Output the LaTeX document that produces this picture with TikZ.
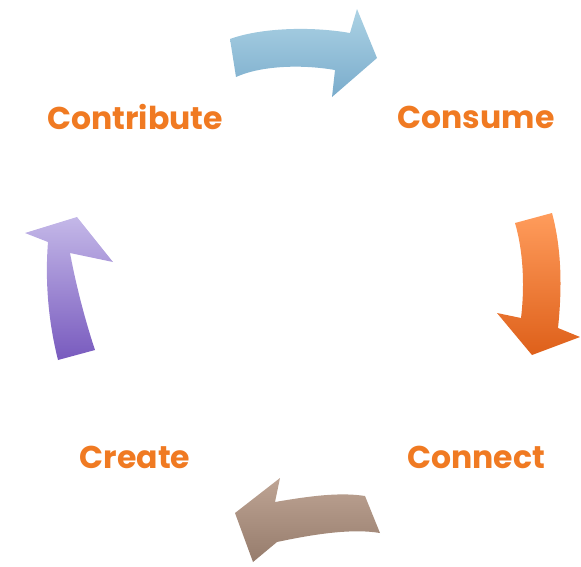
\documentclass[tikz,border=0pt]{standalone}
\usepackage{fontspec}
\setmainfont{Poppins}
\definecolor{lbl}{HTML}{F07A22}
\begin{document}
\begin{tikzpicture}[x=1pt,y=-1pt,
  lab/.style={font=\fontsize{31.5}{36}\selectfont\bfseries, text=lbl, inner sep=0pt},
  arr/.style={draw=none}]
\useasboundingbox (0,0) rectangle (581,566);
% top (blue)
\path[arr, top color={rgb,255:red,172;green,210;blue,228}, bottom color={rgb,255:red,122;green,172;blue,204}]
 (230,39) .. controls (260,28) and (310,26) .. (350,33) -- (357,9) -- (377,58) -- (332,97) -- (335,70)
 .. controls (300,64) and (260,66) .. (236,77) -- cycle;
% right (orange)
\path[arr, top color={rgb,255:red,255;green,156;blue,92}, bottom color={rgb,255:red,222;green,96;blue,26}]
 (515,223) -- (552,213) .. controls (562,250) and (562,290) .. (558,328) -- (580,337) -- (532,355) -- (497,313) -- (521,318)
 .. controls (525,285) and (523,250) .. (515,223) -- cycle;
% bottom (brown)
\path[arr, top color={rgb,255:red,190;green,164;blue,148}, bottom color={rgb,255:red,150;green,124;blue,108}]
 (365,496) -- (380,533) .. controls (350,528) and (310,535) .. (277,542) -- (253,562) -- (235,513) -- (280,478) -- (275,502)
 .. controls (310,496) and (340,492) .. (365,496) -- cycle;
% left (purple)
\path[arr, top color={rgb,255:red,196;green,184;blue,232}, bottom color={rgb,255:red,120;green,90;blue,190}]
 (48,242) -- (25,233) -- (77,217) -- (113,262) -- (70,253) .. controls (76,285) and (85,320) .. (95,350)
 -- (58,360) .. controls (48,320) and (45,280) .. (48,242) -- cycle;
\node[lab] (contribute) at (135,117) {Contribute};
\node[lab] (consume) at (476,117) {Consume};
\node[lab] (create) at (135,457) {Create};
\node[lab] (connect) at (476,457) {Connect};
\end{tikzpicture}
\end{document}
